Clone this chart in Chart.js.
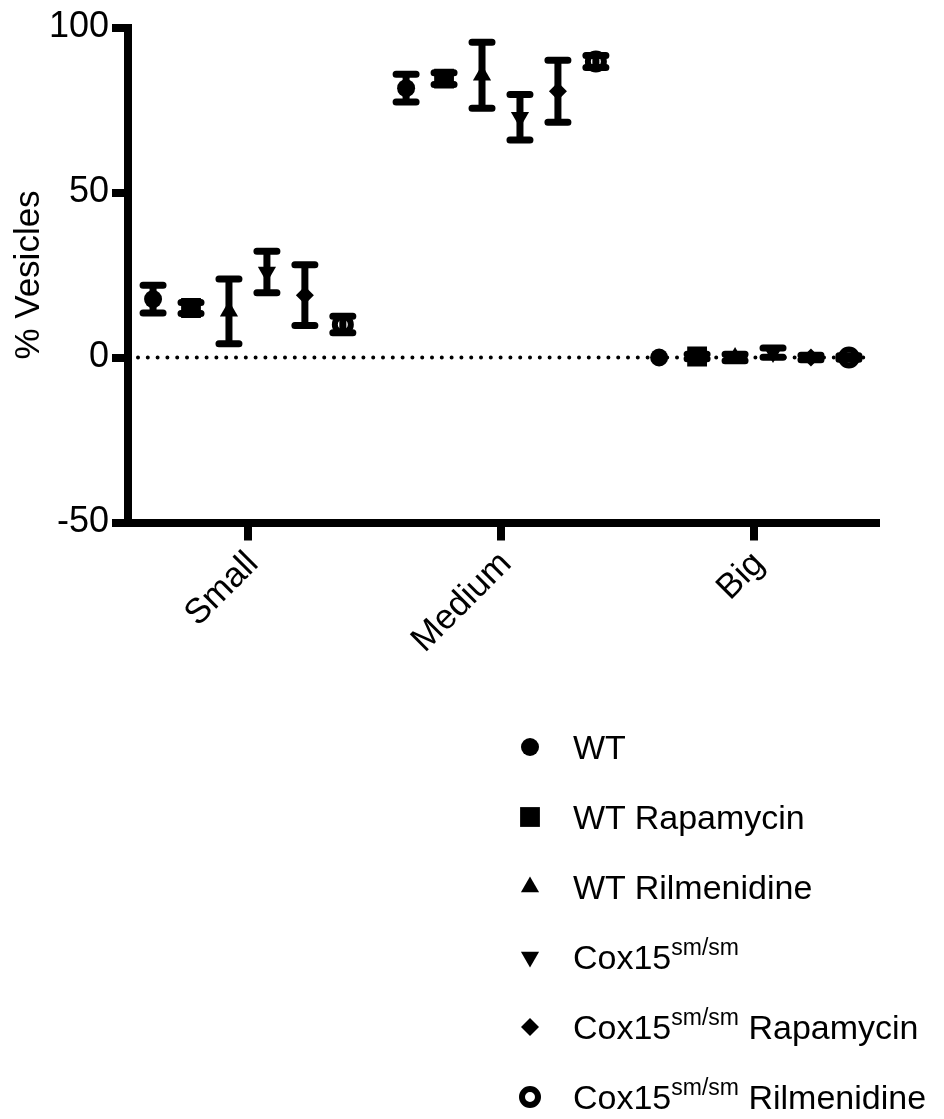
<!DOCTYPE html>
<html>
<head>
<meta charset="utf-8">
<script src="https://cdn.jsdelivr.net/npm/chart.js@4.4.1/dist/chart.umd.min.js"></script>
<style>
  body { margin: 0; background: #fff; font-family: "Liberation Sans", Arial, sans-serif; }
  #wrap { position: relative; width: 944px; height: 1119px; overflow: hidden; }
  #chart { position: absolute; left: 0; top: 0; }
  #legend { position: absolute; left: 510px; top: 712px; }
  .row { display: flex; align-items: center; height: 70px; }
  .row canvas { width: 40px; height: 40px; }
  .row span { margin-left: 23px; font-size: 34px; line-height: 1; color: #000; white-space: nowrap; }
  .row sup { font-size: 23px; line-height: 0; vertical-align: baseline; position: relative; top: -14px; }
</style>
</head>
<body>
<div id="wrap">
  <canvas id="chart" width="944" height="700"></canvas>
  <div id="legend"></div>
</div>
<script>
// data (mean and error per size class)
const categories = ["Small", "Medium", "Big"];
const yTicks = [-50, 0, 50, 100];
const seriesLabels = ["WT", "WT Rapamycin", "WT Rilmenidine", "Cox15sm/sm", "Cox15sm/sm Rapamycin", "Cox15sm/sm Rilmenidine"];

const wt = [17.7, 81.6, 0.0];
const wtErr = [4.2, 4.2, 0];
const wtRapa = [15.0, 84.5, 0.3];
const wtRapaErr = [1.7, 1.8, 0.7];
const wtRilm = [14.0, 85.5, 0.0];
const wtRilmErr = [9.8, 10.0, 1.0];
const cox = [25.9, 72.8, 1.5];
const coxErr = [6.3, 6.9, 1.4];
const coxRapa = [18.9, 80.7, 0.0];
const coxRapaErr = [9.2, 9.4, 0.7];
const coxRilm = [10.0, 89.7, 0.0];
const coxRilmErr = [2.5, 1.8, 0.5];

const means = [wt, wtRapa, wtRilm, cox, coxRapa, coxRilm];
const errs = [wtErr, wtRapaErr, wtRilmErr, coxErr, coxRapaErr, coxRilmErr];

// marker looks, one per series
const markers = [
  { pointStyle: "circle", radius: 9, rotation: 0, bg: "#000", bw: 0 },
  { pointStyle: "rect", radius: 14, rotation: 0, bg: "#000", bw: 0 },
  { pointStyle: "triangle", radius: 10.5, rotation: 0, bg: "#000", bw: 0 },
  { pointStyle: "triangle", radius: 10.5, rotation: 180, bg: "#000", bw: 0 },
  { pointStyle: "rectRot", radius: 9, rotation: 0, bg: "#000", bw: 0 },
  { pointStyle: "circle", radius: 8, rotation: 0, bg: "#fff", bw: 6 }
];

const FONT = "'Liberation Sans', Arial, sans-serif";
const GAP = 0.15; // spacing of series inside a category

Chart.defaults.font.family = FONT;
Chart.defaults.color = "#000";

const datasets = means.map((m, i) => ({
  label: seriesLabels[i],
  data: m.map((v, c) => ({ x: c + (i - 2.5) * GAP, y: v, err: errs[i][c] })),
  pointStyle: markers[i].pointStyle,
  pointRadius: markers[i].radius,
  pointRotation: markers[i].rotation,
  pointBackgroundColor: markers[i].bg,
  pointBorderColor: "#000",
  pointBorderWidth: markers[i].bw,
  pointHoverRadius: markers[i].radius,
  showLine: false
}));

const zeroLine = {
  id: "zeroLine",
  beforeDatasetsDraw(chart) {
    const { ctx, chartArea, scales } = chart;
    const y = scales.y.getPixelForValue(0);
    ctx.save();
    ctx.strokeStyle = "#000";
    ctx.lineWidth = 4;
    ctx.lineCap = "round";
    ctx.setLineDash([0, 9.8]);
    ctx.beginPath();
    ctx.moveTo(chartArea.left + 10, y);
    ctx.lineTo(chartArea.right - 6, y);
    ctx.stroke();
    ctx.restore();
  }
};

const errorBars = {
  id: "errorBars",
  afterDatasetsDraw(chart) {
    const { ctx, scales } = chart;
    ctx.save();
    ctx.strokeStyle = "#000";
    ctx.lineWidth = 7;
    ctx.lineCap = "round";
    chart.data.datasets.forEach(ds => {
      ds.data.forEach(p => {
        if (!p.err) return;
        const px = scales.x.getPixelForValue(p.x);
        const top = scales.y.getPixelForValue(p.y + p.err);
        const bot = scales.y.getPixelForValue(p.y - p.err);
        ctx.beginPath();
        ctx.moveTo(px, top); ctx.lineTo(px, bot);
        ctx.moveTo(px - 10, top); ctx.lineTo(px + 10, top);
        ctx.moveTo(px - 10, bot); ctx.lineTo(px + 10, bot);
        ctx.stroke();
      });
    });
    ctx.restore();
  }
};

new Chart(document.getElementById("chart"), {
  type: "scatter",
  data: { datasets: datasets },
  options: {
    responsive: false,
    animation: false,
    devicePixelRatio: 1,
    layout: { padding: { top: 27.5, right: 68, left: 0, bottom: 0 } },
    plugins: { legend: { display: false }, tooltip: { enabled: false } },
    scales: {
      x: {
        type: "linear",
        min: -0.474,
        max: 2.482,
        afterBuildTicks: s => { s.ticks = categories.map((c, i) => ({ value: i })); },
        afterFit: s => { s.height = 177.5; },
        ticks: {
          callback: (v, i) => categories[i],
          autoSkip: false,
          minRotation: 45,
          maxRotation: 45,
          labelOffset: 5,
          padding: 3,
          color: "#000",
          font: { size: 35 }
        },
        grid: { drawOnChartArea: false, color: "#000", lineWidth: 8, tickLength: 18, tickWidth: 8, tickColor: "#000" },
        border: { color: "#000", width: 8 }
      },
      y: {
        min: -50,
        max: 100,
        afterBuildTicks: s => { s.ticks = yTicks.map(v => ({ value: v })); },
        afterFit: s => { s.width = 128; },
        ticks: { color: "#000", padding: 3, font: { size: 36 } },
        grid: { drawOnChartArea: false, color: "#000", lineWidth: 8, tickLength: 16, tickWidth: 8, tickColor: "#000" },
        border: { color: "#000", width: 8 },
        title: { display: true, text: "% Vesicles", color: "#000", font: { size: 35 }, padding: { top: 8, bottom: 0 } }
      }
    }
  },
  plugins: [zeroLine, errorBars]
});

// legend with superscripts as html text
const legend = document.getElementById("legend");
seriesLabels.forEach((label, i) => {
  const row = document.createElement("div");
  row.className = "row";
  const c = document.createElement("canvas");
  c.width = 40; c.height = 40;
  const ctx = c.getContext("2d");
  const mk = markers[i];
  ctx.fillStyle = mk.bg;
  ctx.strokeStyle = "#000";
  ctx.lineWidth = mk.bw;
  const opts = { pointStyle: mk.pointStyle, radius: mk.radius, rotation: mk.rotation, borderWidth: mk.bw };
  Chart.helpers.drawPoint(ctx, opts, 20, 20);
  const span = document.createElement("span");
  span.innerHTML = label.replace("sm/sm", "<sup>sm/sm</sup>");
  row.appendChild(c);
  row.appendChild(span);
  legend.appendChild(row);
});
</script>
</body>
</html>
